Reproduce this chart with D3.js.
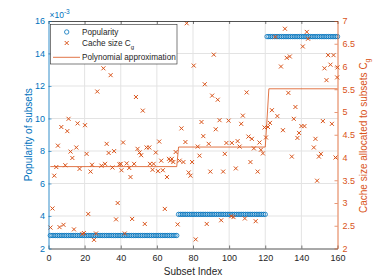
<!DOCTYPE html>
<meta charset="utf-8">
<script src="https://d3js.org/d3.v7.min.js"></script>
<style>
  body { margin: 0; background: #fff; }
  text { font-family: "Liberation Sans", Arial, Helvetica, sans-serif; }
</style>
<div id="chart"></div>
<script>
// tick values
var xTicks = [0, 20, 40, 60, 80, 100, 120, 140, 160];
var leftTicks = [2, 4, 6, 8, 10, 12, 14, 16];
var rightTicks = [2, 2.5, 3, 3.5, 4, 4.5, 5, 5.5, 6, 6.5, 7];

// popularity (x10^-3), constant over index ranges
var popularityLevels = [2.8, 4.1, 15.04];
var popularityFrom = [1, 72, 121];
var popularityTo = [71, 120, 160];

// polynomial approximation (right axis)
var polyX = [1, 71, 72, 120, 121, 122, 160];
var polyY = [3.80, 3.80, 4.23, 4.23, 4.85, 5.51, 5.51];

// cache size C_g (right axis)
var cacheX = [30.4, 34.4, 27, 11.1, 7.1, 10.4, 16.1, 20.2, 5.2, 32.2, 12.2, 15.4, 33.3, 36.3, 21.1, 13.2,
  4.3, 9.3, 17.2, 24.1, 29.3, 31.3, 35.4, 39.3, 3.2, 23.3, 2.2, 38.3, 22, 37.4, 1.1, 6.1, 8.3, 14.1,
  18.7, 19.6, 26.3, 25.2,
  48.4, 52.2, 76.5, 80.4, 73.6, 75.8, 41.3, 61.3, 49.3, 50.4, 54.3, 55.8, 51.3, 59.4, 66.7, 67.4, 68.3,
  69.1, 62.4, 72.6, 74.7, 79.5, 40.0, 43.3, 47.4, 56.2, 58.2, 40.4, 44.7, 57.6, 60.6, 63.3, 77.6, 78.6,
  45.4, 65.6, 64.4, 46.3, 53.3, 71.5, 42.2, 70.4,
  91.5, 86.5, 90.6, 93.7, 109.7, 84.7, 94.7, 99.7, 107.6, 106.7, 92.6, 119.6, 85.7, 110.7, 112.6, 120.4,
  88.7, 98.5, 101.5, 104.7, 105.8, 116.8, 82.6, 113.7, 117.6, 118.7, 83.6, 97.6, 111.8, 89.6, 96.7,
  103.7, 115.8, 101.2, 102.4, 108.7, 114.7, 95.6, 87.6, 81.5,
  130.9, 143, 125.6, 143.7, 140.8, 131.9, 133.6, 128.7, 154.8, 157.8, 156.1, 152.8, 160, 153.9, 159.8,
  132.8, 136.7, 123.7, 126.7, 135.8, 122.6, 151.9, 156.9, 140, 141.7, 121.5, 129.8, 138.7, 137.8,
  147.8, 146.9, 134.7, 150.8, 149.7, 158.9, 148.7];
var cacheY = [5.96, 5.81, 5.45, 4.85, 4.67, 4.58, 4.75, 4.71, 4.26, 4.30, 4.13, 4.22, 4.10, 4.14, 4.08, 3.99,
  3.79, 3.83, 3.75, 3.84, 3.82, 3.86, 3.78, 3.85, 3.60, 3.69, 2.88, 3.00, 2.76, 2.64, 2.46, 2.47, 2.52, 2.42,
  2.32, 2.34, 2.33, 2.19,
  5.33, 5.03, 6.95, 6.02, 4.64, 4.34, 4.33, 4.35, 4.19, 4.11, 4.22, 4.22, 4.05, 4.11, 3.97, 3.93, 3.97,
  3.90, 3.93, 3.93, 3.90, 3.90, 3.86, 3.87, 3.86, 3.86, 3.86, 3.72, 3.77, 3.73, 3.70, 3.72, 3.67, 3.60,
  3.57, 3.57, 2.87, 2.65, 2.54, 2.53, 2.33, 4.12,
  6.26, 5.61, 5.36, 5.27, 5.43, 4.78, 4.82, 4.81, 4.92, 4.74, 4.62, 4.66, 4.47, 4.46, 4.41, 4.44,
  4.30, 4.32, 4.32, 4.36, 4.24, 4.33, 4.24, 4.20, 4.17, 4.09, 4.04, 4.08, 3.90, 3.69, 3.69,
  3.76, 3.69, 2.71, 2.69, 2.66, 2.60, 2.62, 2.54, 2.20,
  6.83, 6.76, 6.65, 6.61, 6.44, 6.19, 6.22, 6.00, 6.25, 6.25, 6.04, 5.96, 5.98, 5.70, 5.76,
  5.42, 5.11, 5.04, 4.91, 4.85, 4.76, 4.80, 4.74, 4.69, 4.69, 4.67, 4.60, 4.54, 4.43,
  4.41, 4.22, 4.02, 4.08, 4.02, 4.00, 3.49];

var blue = "#0072BD", orange = "#D95319", dark = "#262626";
var W = 374, H = 280;
var mLeft = 48.5, mRight = 337.5, mTop = 21, mBottom = 248.5;

var svg = d3.select("#chart").append("svg")
  .attr("width", W).attr("height", H);

var x = d3.scaleLinear().domain([0, 160]).range([mLeft, mRight]);
var yL = d3.scaleLinear().domain([2, 16]).range([mBottom, mTop]);
var yR = d3.scaleLinear().domain([2, 7]).range([mBottom, mTop]);

// grid
svg.append("g").selectAll("line").data(xTicks.slice(1, -1)).enter().append("line")
  .attr("x1", function(d) { return x(d); }).attr("x2", function(d) { return x(d); })
  .attr("y1", mTop).attr("y2", mBottom)
  .attr("stroke", "#e3e3e3").attr("stroke-width", 1);
svg.append("g").selectAll("line").data(leftTicks.slice(1, -1)).enter().append("line")
  .attr("y1", function(d) { return yL(d); }).attr("y2", function(d) { return yL(d); })
  .attr("x1", mLeft).attr("x2", mRight)
  .attr("stroke", "#e3e3e3").attr("stroke-width", 1);

// popularity circles
var pop = [];
popularityLevels.forEach(function(v, k) {
  for (var i = popularityFrom[k]; i <= popularityTo[k]; i++) pop.push({i: i, v: v});
});
svg.append("g").selectAll("circle").data(pop).enter().append("circle")
  .attr("cx", function(d) { return x(d.i); })
  .attr("cy", function(d) { return yL(d.v); })
  .attr("r", 2.2)
  .attr("fill", "none").attr("stroke", blue).attr("stroke-width", 0.8);

// cache size crosses
var cache = cacheX.map(function(d, k) { return [d, cacheY[k]]; });
var cross = "M-2,-2L2,2M-2,2L2,-2";
svg.append("g").selectAll("path").data(cache).enter().append("path")
  .attr("transform", function(d) { return "translate(" + x(d[0]) + "," + yR(d[1]) + ")"; })
  .attr("d", cross)
  .attr("stroke", orange).attr("stroke-width", 1).attr("fill", "none");

// polynomial line
var line = d3.line()
  .x(function(d) { return x(d[0]); })
  .y(function(d) { return yR(d[1]); });
svg.append("path")
  .datum(polyX.map(function(d, k) { return [d, polyY[k]]; }))
  .attr("d", line)
  .attr("fill", "none").attr("stroke", orange).attr("stroke-width", 0.8);

// axes
var gB = svg.append("g").attr("transform", "translate(0," + mBottom + ")")
  .call(d3.axisBottom(x).tickValues(xTicks).tickSize(-3).tickPadding(6.5).tickSizeOuter(0));
var gT = svg.append("g").attr("transform", "translate(0," + mTop + ")")
  .call(d3.axisTop(x).tickValues(xTicks).tickSize(-3).tickFormat("").tickSizeOuter(0));
[gB, gT].forEach(function(g) {
  g.select(".domain").attr("stroke", dark).attr("stroke-width", 0.8);
  g.selectAll(".tick line").attr("stroke", dark).attr("stroke-width", 0.6);
  g.selectAll("text").attr("fill", dark).attr("font-size", 9).attr("font-family", "Liberation Sans, Arial, sans-serif");
});

var gL = svg.append("g").attr("transform", "translate(" + mLeft + ",0)")
  .call(d3.axisLeft(yL).tickValues(leftTicks).tickSize(-3).tickPadding(3.5).tickSizeOuter(0));
gL.select(".domain").attr("stroke", blue).attr("stroke-width", 0.8);
gL.selectAll(".tick line").attr("stroke", blue).attr("stroke-width", 0.6);
gL.selectAll("text").attr("fill", blue).attr("font-size", 9).attr("font-family", "Liberation Sans, Arial, sans-serif");

var gR = svg.append("g").attr("transform", "translate(" + mRight + ",0)")
  .call(d3.axisRight(yR).tickValues(rightTicks).tickSize(-3).tickPadding(5).tickSizeOuter(0)
    .tickFormat(function(d) { return d; }));
gR.select(".domain").attr("stroke", orange).attr("stroke-width", 0.8);
gR.selectAll(".tick line").attr("stroke", orange).attr("stroke-width", 0.6);
gR.selectAll("text").attr("fill", orange).attr("font-size", 9).attr("font-family", "Liberation Sans, Arial, sans-serif");

// exponent label
var ex = svg.append("text").attr("x", mLeft + 1).attr("y", mTop - 3.5)
  .attr("fill", blue).attr("font-size", 8.5);
ex.append("tspan").text("\u00d710");
ex.append("tspan").attr("dy", -3.5).attr("font-size", 6.5).text("-3");

// titles
svg.append("text").attr("x", (mLeft + mRight) / 2).attr("y", 274.5)
  .attr("text-anchor", "middle").attr("font-size", 10).attr("fill", dark)
  .text("Subset Index");
svg.append("text").attr("transform", "translate(31.5," + ((mTop + mBottom) / 2) + ") rotate(-90)")
  .attr("text-anchor", "middle").attr("font-size", 10).attr("fill", blue)
  .text("Popularity of subsets");
var rt = svg.append("text").attr("transform", "translate(366.5," + ((mTop + mBottom) / 2 + 1) + ") rotate(-90)")
  .attr("text-anchor", "middle").attr("font-size", 10).attr("fill", orange);
rt.append("tspan").text("Cache size allocated to subsets C");
rt.append("tspan").attr("dy", 3).attr("font-size", 7).text("g");

// legend
var lg = svg.append("g");
lg.append("rect").attr("x", 50.5).attr("y", 24.5).attr("width", 126.5).attr("height", 39.5)
  .attr("fill", "#fff").attr("stroke", dark).attr("stroke-width", 0.6);
lg.append("circle").attr("cx", 66.7).attr("cy", 32).attr("r", 2.2)
  .attr("fill", "none").attr("stroke", blue).attr("stroke-width", 0.8);
lg.append("path").attr("transform", "translate(66.7,43)").attr("d", cross)
  .attr("stroke", orange).attr("stroke-width", 1);
lg.append("line").attr("x1", 53).attr("x2", 80).attr("y1", 57.3).attr("y2", 57.3)
  .attr("stroke", orange).attr("stroke-width", 0.8);
lg.append("text").attr("x", 82).attr("y", 35).attr("font-size", 8.2).attr("fill", dark).text("Popularity");
var lt = lg.append("text").attr("x", 82).attr("y", 46).attr("font-size", 8.2).attr("fill", dark);
lt.append("tspan").text("Cache size C");
lt.append("tspan").attr("dy", 3).attr("font-size", 6).text("g");
lg.append("text").attr("x", 82).attr("y", 60.3).attr("font-size", 8.2).attr("fill", dark).text("Polynomial approximation");
</script>
